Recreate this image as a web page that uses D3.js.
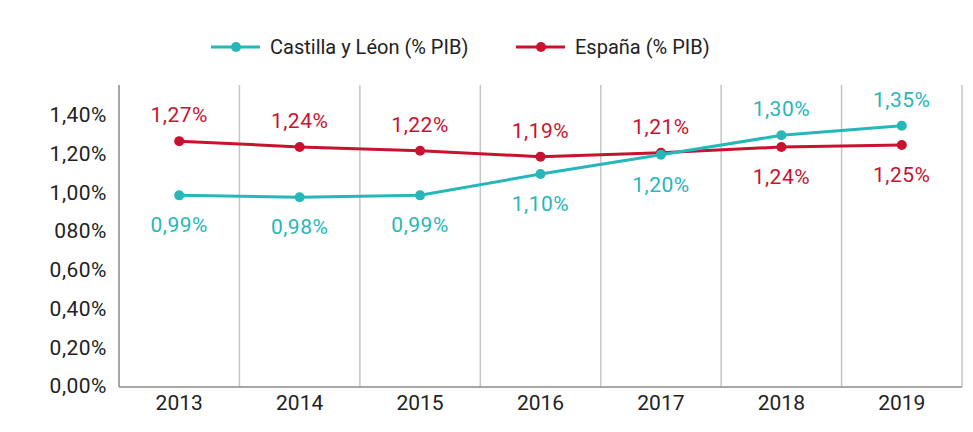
<!DOCTYPE html>
<html>
<head>
<meta charset="utf-8">
<script src="https://cdn.jsdelivr.net/npm/d3@7"></script>
<style>
  body { margin: 0; background: #fff; }
  text { font-family: Roboto, "Noto Sans", sans-serif; font-weight: 400; }
</style>
</head>
<body>
<script>
'use strict';

let years = ['2013', '2014', '2015', '2016', '2017', '2018', '2019'];
let castilla = [0.99, 0.98, 0.99, 1.10, 1.20, 1.30, 1.35];
let espana = [1.27, 1.24, 1.22, 1.19, 1.21, 1.24, 1.25];
let castillaLabels = ['0,99%', '0,98%', '0,99%', '1,10%', '1,20%', '1,30%', '1,35%'];
let espanaLabels = ['1,27%', '1,24%', '1,22%', '1,19%', '1,21%', '1,24%', '1,25%'];
let yTicks = [0, 0.2, 0.4, 0.6, 0.8, 1.0, 1.2, 1.4];
let yTickLabels = ['0,00%', '0,20%', '0,40%', '0,60%', '080%', '1,00%', '1,20%', '1,40%'];
let seriesNames = ['Castilla y Léon (% PIB)', 'España (% PIB)'];

let teal = '#27b7b9';
let red = '#c7132f';

let width = 973;
let height = 432;
let plot = { left: 119, right: 962, top: 85, bottom: 387 };

let svg = d3.select('body')
    .append('svg')
    .attr('width', width)
    .attr('height', height);

let xScale = d3.scaleBand()
    .domain(years)
    .range([plot.left, plot.right]);

let yScale = d3.scaleLinear()
    .domain([0, 1.56])
    .range([plot.bottom, plot.top]);

// vertical separators between years
svg.append('g')
    .selectAll('line')
    .data(years)
    .enter()
    .append('line')
    .attr('x1', (d) => xScale(d) + xScale.bandwidth())
    .attr('x2', (d) => xScale(d) + xScale.bandwidth())
    .attr('y1', plot.top)
    .attr('y2', plot.bottom)
    .attr('stroke', '#c6c6c6')
    .attr('stroke-width', 1.5);

// y axis
let yAxis = d3.axisLeft(yScale)
    .tickValues(yTicks)
    .tickSize(0)
    .tickPadding(12)
    .tickFormat((d, i) => yTickLabels[i]);

let gy = svg.append('g')
    .attr('transform', 'translate(' + plot.left + ',-1)')
    .call(yAxis);
gy.select('.domain').remove();
gy.selectAll('text')
    .style('font-size', '21px')
    .style('letter-spacing', '0.5px')
    .attr('fill', '#222');

svg.append('line')
    .attr('x1', plot.left).attr('x2', plot.left)
    .attr('y1', plot.top).attr('y2', plot.bottom)
    .attr('stroke', '#8a8a8a')
    .attr('stroke-width', 1.5);

// x axis
let xAxis = d3.axisBottom(xScale).tickSize(0).tickPadding(8);
let gx = svg.append('g')
    .attr('transform', 'translate(0,' + plot.bottom + ')')
    .call(xAxis);
gx.select('.domain').remove();
gx.selectAll('text')
    .style('font-size', '21px')
    .attr('fill', '#222');

svg.append('line')
    .attr('x1', plot.left).attr('x2', plot.right)
    .attr('y1', plot.bottom).attr('y2', plot.bottom)
    .attr('stroke', '#8a8a8a')
    .attr('stroke-width', 1.5);

let cx = (d, i) => xScale(years[i]) + xScale.bandwidth() / 2;

function drawSeries(values, labels, color, above) {
    let line = d3.line()
        .x((d, i) => cx(d, i))
        .y((d) => yScale(d));

    svg.append('path')
        .datum(values)
        .attr('d', line)
        .attr('fill', 'none')
        .attr('stroke', color)
        .attr('stroke-width', 3);

    svg.append('g')
        .selectAll('circle')
        .data(values)
        .enter()
        .append('circle')
        .attr('cx', cx)
        .attr('cy', (d) => yScale(d))
        .attr('r', 5)
        .attr('fill', color);

    svg.append('g')
        .selectAll('text')
        .data(values)
        .enter()
        .append('text')
        .attr('x', cx)
        .attr('y', (d, i) => yScale(d) + (above[i] ? -19 : 37))
        .attr('text-anchor', 'middle')
        .style('font-size', '21px')
        .style('letter-spacing', '0.5px')
        .attr('fill', color)
        .text((d, i) => labels[i]);
}

drawSeries(espana, espanaLabels, red, [true, true, true, true, true, false, false]);
drawSeries(castilla, castillaLabels, teal, [false, false, false, false, false, true, true]);

// legend
function legendItem(x, color, name) {
    let g = svg.append('g').attr('transform', 'translate(' + x + ',47)');
    g.append('line')
        .attr('x1', 0).attr('x2', 49)
        .attr('y1', 0).attr('y2', 0)
        .attr('stroke', color)
        .attr('stroke-width', 3);
    g.append('circle')
        .attr('cx', 25).attr('cy', 0).attr('r', 5)
        .attr('fill', color);
    g.append('text')
        .attr('x', 59)
        .attr('y', 7)
        .style('font-size', '20px')
        .attr('fill', '#222')
        .text(name);
}

legendItem(211, teal, seriesNames[0]);
legendItem(516, red, seriesNames[1]);
</script>
</body>
</html>
